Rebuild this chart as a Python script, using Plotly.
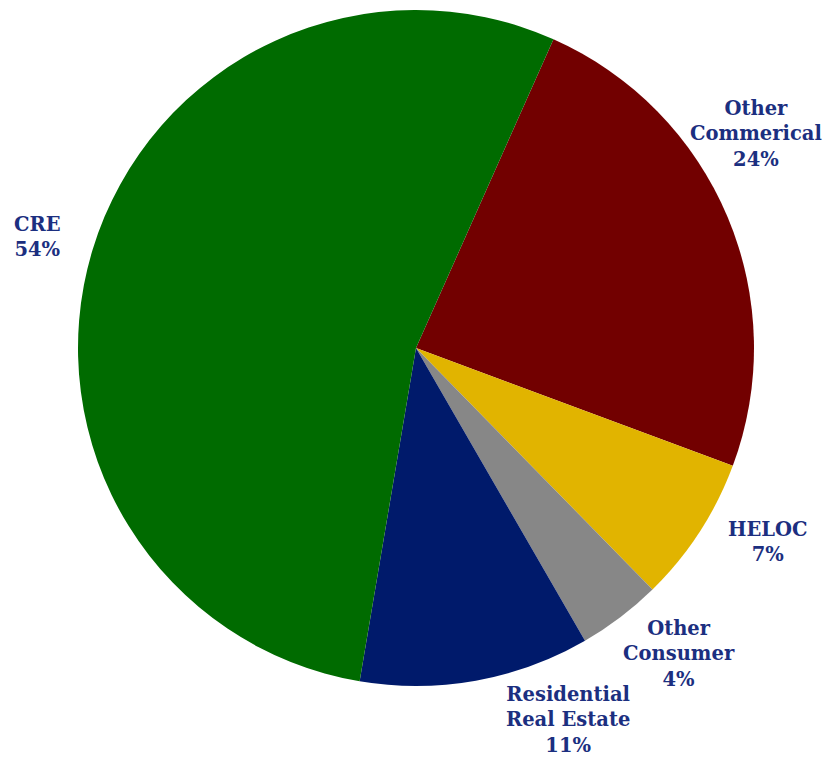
import math
import plotly.graph_objects as go

# Loan portfolio composition, listed clockwise starting after CRE's top edge
categories = ["Other<br>Commerical", "HELOC", "Other<br>Consumer", "Residential<br>Real Estate", "CRE"]
shares = [24, 7, 4, 11, 54]
slice_colors = ["#720000", "#E1B400", "#878787", "#001A6B", "#006B00"]

# Figure geometry (pixels)
W, H = 827, 761
CX, CY, R = 416, 348, 338          # pie centre and radius
START_DEG = 24                      # first slice starts 24 deg clockwise from 12 o'clock
LABEL_RADIUS = [1.19, 1.19, 1.195, 1.19, 1.166]     # label centres just outside the rim
LABEL_NUDGE_DEG = [-9.4, -4.1, -3.5, -12.0, -0.4]   # hand-tuned label placement
LABEL_FONT = dict(family="DejaVu Serif", size=19.5, color="#1C2F80")

fig = go.Figure(
    go.Pie(
        labels=categories,
        values=shares,
        sort=False,
        direction="clockwise",
        rotation=START_DEG,
        marker=dict(colors=slice_colors, line=dict(width=0)),
        textinfo="none",
        domain=dict(x=[(CX - R) / W, (CX + R) / W],
                    y=[1 - (CY + R) / H, 1 - (CY - R) / H]),
        showlegend=False,
        hoverinfo="label+percent",
    )
)

# Outside labels: each sits near the middle angle of its slice
total = sum(shares)
cum = 0
annotations = []
for label, val, rad, nudge in zip(categories, shares, LABEL_RADIUS, LABEL_NUDGE_DEG):
    mid = START_DEG + 360 * (cum + val / 2) / total + nudge
    cum += val
    a = math.radians(mid)
    px = CX + rad * R * math.sin(a)
    py = CY - rad * R * math.cos(a)
    pct = round(100 * val / total)
    annotations.append(dict(
        x=px / W, y=1 - py / H, xref="paper", yref="paper",
        text=f"<b>{label}<br>{pct}%</b>",
        showarrow=False, xanchor="center", yanchor="middle",
        align="center", font=LABEL_FONT,
    ))

fig.update_layout(
    width=W,
    height=H,
    margin=dict(l=0, r=0, t=0, b=0),
    paper_bgcolor="white",
    plot_bgcolor="white",
    annotations=annotations,
)

fig.write_html("out.html")
